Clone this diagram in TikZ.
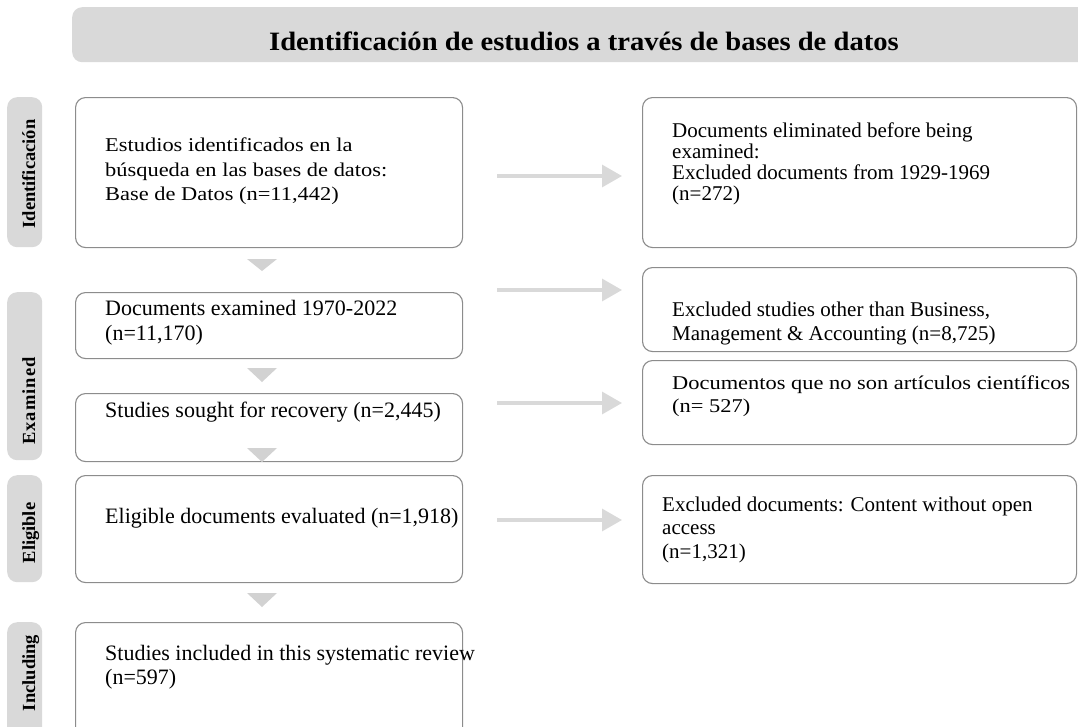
\documentclass[tikz,border=0pt]{standalone}
\usepackage{fontspec}
\setmainfont{Liberation Serif}
\newfontfamily\spfont[FakeStretch=1.15]{Liberation Serif}
\newfontfamily\ttlfont[FakeStretch=1.08]{Liberation Serif}
\newfontfamily\exfont[LetterSpace=6]{Liberation Serif}
\usetikzlibrary{arrows.meta}
\definecolor{panel}{HTML}{D9D9D9}
\definecolor{edge}{HTML}{8C8C8C}
\definecolor{tricol}{HTML}{D2D2D2}
\begin{document}
\begin{tikzpicture}[x=1pt,y=-1pt,
  box/.style={draw=edge, line width=1.1pt, rounded corners=10pt, fill=white, inner sep=0pt, anchor=north west},
  stage/.style={fill=panel, rounded corners=10pt, inner sep=0pt, anchor=north west, minimum width=35pt},
  stagetxt/.style={rotate=90, anchor=base, inner sep=0pt, font=\bfseries\fontsize{18.5}{20}\selectfont},
  ltxt/.style={anchor=north west, inner sep=0pt, align=left, font=\fontsize{22}{25}\selectfont},
  rtxt/.style={anchor=north west, inner sep=0pt, align=left, font=\fontsize{21}{21}\selectfont},
  harr/.style={draw=panel, line width=3.3pt, -{Triangle[length=20pt,width=22pt]}},
  downtri/.style={fill=tricol}
]
\useasboundingbox (0,0) rectangle (1078,726);

% title banner
\node[fill=panel, rounded corners=10pt, anchor=north west, minimum width=1040pt, minimum height=55pt, inner sep=0pt] (banner) at (72,7) {};
\node[anchor=base, inner sep=0pt, font=\ttlfont\bfseries\fontsize{26.5}{29}\selectfont] (title) at (584,50) {Identificación de estudios a través de bases de datos};

% stage labels
\node[stage, minimum height=150pt] (s1) at (7,97) {};
\node[stagetxt] (s1t) at (35,174) {Identificación};
\node[stage, minimum height=168pt] (s2) at (7,292) {};
\node[stagetxt, font=\exfont\bfseries\fontsize{18.5}{20}\selectfont] (s2t) at (35,401) {Examined};
\node[stage, minimum height=107pt] (s3) at (7,475) {};
\node[stagetxt] (s3t) at (35,533) {Eligible};
\node[stage, minimum height=120pt] (s4) at (7,622) {};
\node[stagetxt] (s4t) at (35,673) {Including};

% left boxes
\node[box, minimum width=387pt, minimum height=150pt] (b1) at (75,97) {};
\node[box, minimum width=387pt, minimum height=66pt] (b2) at (75,292) {};
\node[box, minimum width=387pt, minimum height=68pt] (b3) at (75,393) {};
\node[box, minimum width=387pt, minimum height=107pt] (b4) at (75,475) {};
\node[box, minimum width=387pt, minimum height=120pt] (b5) at (75,622) {};

\node[ltxt, font=\spfont\fontsize{19.5}{24.5}\selectfont] (t1) at (105,134.5) {\strut Estudios identificados en la\\búsqueda en las bases de datos:\\Base de Datos (n=11,442)};
\node[ltxt] (t2) at (105,297.5) {\strut Documents examined 1970-2022\\(n=11,170)};
\node[ltxt] (t3) at (105,399.5) {\strut Studies sought for recovery (n=2,445)};
\node[ltxt] (t4) at (105,505.5) {\strut Eligible documents evaluated (n=1,918)};
\node[ltxt, font=\fontsize{22}{24}\selectfont] (t5) at (105,643.2) {\strut Studies included in this systematic review\\(n=597)};

% right boxes
\node[box, minimum width=434pt, minimum height=150pt] (r1) at (642,97) {};
\node[box, minimum width=434pt, minimum height=84pt] (r2) at (642,267) {};
\node[box, minimum width=434pt, minimum height=84pt] (r3) at (642,360) {};
\node[box, minimum width=434pt, minimum height=108pt] (r4) at (642,475) {};

\node[rtxt] (u1) at (672,122.3) {\strut Documents eliminated before being\\examined:\\Excluded documents from 1929-1969\\(n=272)};
\node[rtxt, font=\fontsize{21}{24}\selectfont] (u2) at (672,299.2) {\strut Excluded studies other than Business,\\Management \& Accounting (n=8,725)};
\node[rtxt, font=\spfont\fontsize{19.5}{23}\selectfont] (u3) at (672,372.9) {\strut Documentos que no son artículos científicos\\(n= 527)};
\node[rtxt, font=\fontsize{21}{23.5}\selectfont] (u4) at (662,494.5) {\strut Excluded documents: Content without open\\access\\(n=1,321)};

% down triangles
\fill[downtri] (247,259) -- (277,259) -- (262,271) -- cycle;
\fill[downtri] (247,368) -- (277,368) -- (262,382) -- cycle;
\fill[downtri] (247,448) -- (277,448) -- (262,462) -- cycle;
\fill[downtri] (247,593) -- (277,593) -- (262,607) -- cycle;

% horizontal arrows
\coordinate (a1s) at (497,176); \coordinate (a1e) at (622,176);
\coordinate (a2s) at (497,290); \coordinate (a2e) at (622,290);
\coordinate (a3s) at (497,403); \coordinate (a3e) at (622,403);
\coordinate (a4s) at (497,520); \coordinate (a4e) at (622,520);
\draw[harr] (a1s) -- (a1e);
\draw[harr] (a2s) -- (a2e);
\draw[harr] (a3s) -- (a3e);
\draw[harr] (a4s) -- (a4e);
\end{tikzpicture}
\end{document}
